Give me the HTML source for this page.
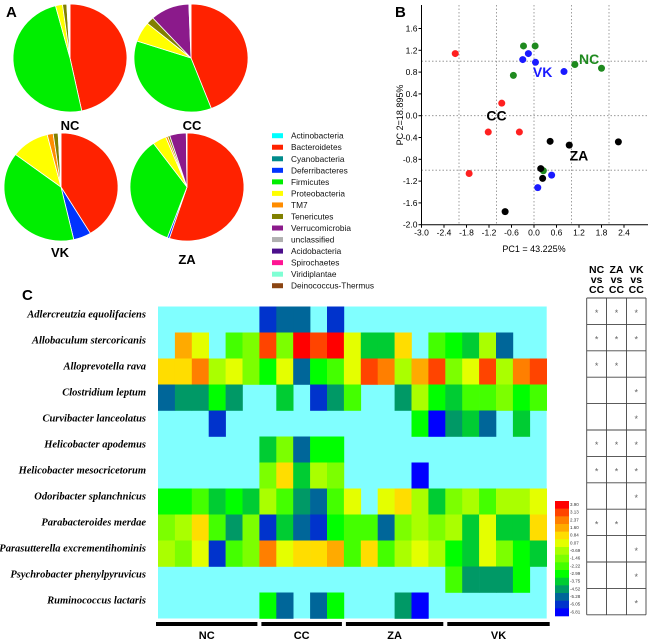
<!DOCTYPE html>
<html><head><meta charset="utf-8"><style>
html,body{margin:0;padding:0;background:#fff;}
svg{display:block;font-family:"Liberation Sans",sans-serif;}
</style></head><body>
<svg id="fig" width="650" height="640" viewBox="0 0 650 640">
<text x="6" y="17" font-size="15" font-weight="bold">A</text>
<text x="395" y="17" font-size="15" font-weight="bold">B</text>
<text x="22" y="300" font-size="15" font-weight="bold">C</text>
<g id="pies"></g>
<g id="legend"></g>
<g id="scatter"></g>
<g id="heat"></g>
<g id="table"></g>
</svg>
<script>
const NS="http://www.w3.org/2000/svg";
function mk(parent,tag,attrs,text){const e=document.createElementNS(NS,tag);for(const k in attrs)e.setAttribute(k,attrs[k]);if(text!==undefined)e.textContent=text;parent.appendChild(e);return e;}

// ---------- Panel A data ----------
const pieGroups=["NC","CC","VK","ZA"];
const piePhyla=["Bacteroidetes","Deferribacteres","Firmicutes","Proteobacteria","TM7","Tenericutes","Verrucomicrobia","Other"];
const pieColors=["#ff2200","#0033ff","#00ee00","#ffff00","#ff8c00","#808000","#8b1a8b","#ffffff"];
const pieNC=[46.7,0,49.2,2.0,0,1.2,0,0.9];
const pieCC=[44.2,0,35.9,6.0,0,2.2,11.1,0.6];
const pieVK=[41.4,5.0,38.9,10.8,1.7,1.4,0,0.8];
const pieZA=[55.0,0.6,34.4,3.9,0.6,0.6,4.7,0.2];
const pieValues=[pieNC,pieCC,pieVK,pieZA];
const pieLayout=[{cx:70,cy:58,lx:70,ly:130},{cx:191,cy:58,lx:192,ly:130},{cx:61,cy:187,lx:60,ly:257},{cx:187,cy:187,lx:187,ly:264}];
const pieRx=57,pieRy=54;
const pies=document.getElementById('pies');
pieGroups.forEach((g,gi)=>{
  const L=pieLayout[gi];const vals=pieValues[gi];
  const tot=vals.reduce((a,b)=>a+b,0);
  let a0=0;
  vals.forEach((v,i)=>{
    if(v<=0)return;
    const a1=a0+v/tot*2*Math.PI;
    const x0=L.cx+pieRx*Math.sin(a0),y0=L.cy-pieRy*Math.cos(a0);
    const x1=L.cx+pieRx*Math.sin(a1),y1=L.cy-pieRy*Math.cos(a1);
    const large=(a1-a0)>Math.PI?1:0;
    const p=mk(pies,'path',{d:`M${L.cx},${L.cy}L${x0},${y0}A${pieRx},${pieRy} 0 ${large} 1 ${x1},${y1}Z`,fill:pieColors[i],stroke:'#fff','stroke-width':0.8});
    
    
    a0=a1;
  });
  const t=mk(pies,'text',{x:L.lx,y:L.ly,'font-size':13,'font-weight':'bold','text-anchor':'middle'},g);
  
  
});

// ---------- Legend ----------
const legendNames=["Actinobacteria","Bacteroidetes","Cyanobacteria","Deferribacteres","Firmicutes","Proteobacteria","TM7","Tenericutes","Verrucomicrobia","unclassified","Acidobacteria","Spirochaetes","Viridiplantae","Deinococcus-Thermus"];
const legendColors=["#00ffff","#ff2200","#008b8b","#0033ff","#00ee00","#ffff00","#ff8c00","#808000","#8b1a8b","#b0b0b0","#4b0f8b","#ff1493","#7fffd4","#8b4513"];
const legend=document.getElementById('legend');
legendNames.forEach((n,i)=>{
  const y=135.7+i*11.54;
  const r=mk(legend,'rect',{x:272,y:y-2.5,width:11,height:5,fill:legendColors[i]});
  
  
  const t=mk(legend,'text',{x:291,y:y+3,'font-size':8.3,fill:'#111'},n);
  
  
});

// ---------- Panel B data ----------
const pcaGroups=["CC","NC","VK","ZA"];
const pcaColors=["#ff2020","#1f8a1f","#1a1aff","#000000"];
const pc1CC=[-2.1,-0.86,-1.22,-0.39,-1.73];
const pc2CC=[1.14,0.23,-0.30,-0.30,-1.06];
const pc1NC=[-0.28,0.03,-0.55,1.09,1.8,0.25];
const pc2NC=[1.28,1.28,0.74,0.94,0.87,-1.01];
const pc1VK=[-0.15,-0.30,0.04,0.80,0.47,0.10];
const pc2VK=[1.14,1.03,0.98,0.81,-1.09,-1.32];
const pc1ZA=[0.43,0.94,2.25,0.18,0.23,-0.77];
const pc2ZA=[-0.47,-0.54,-0.48,-0.97,-1.15,-1.76];
const xTicks=[-3.0,-2.4,-1.8,-1.2,-0.6,0.0,0.6,1.2,1.8,2.4];
const yTicks=[1.6,1.2,0.8,0.4,0.0,-0.4,-0.8,-1.2,-1.6,-2.0];
const xGrid=[-2,-1,0,1,2];
const yGrid=[1,0,-1];
const groupLabels=[{g:"CC",x:-1.27,y:0.0},{g:"NC",x:1.2,y:1.04},{g:"VK",x:-0.03,y:0.8},{g:"ZA",x:0.95,y:-0.73}];
const sx=v=>534+v*37.5;
const sy=v=>115.7-v*54.5;
const sc=document.getElementById('scatter');
xGrid.forEach(v=>{const l=mk(sc,'line',{x1:sx(v),x2:sx(v),y1:5,y2:sy(-2),stroke:'#888','stroke-dasharray':'1.5,2','stroke-width':0.8});});
yGrid.forEach(v=>{const l=mk(sc,'line',{x1:sx(-3),x2:648,y1:sy(v),y2:sy(v),stroke:'#888','stroke-dasharray':'1.5,2','stroke-width':0.8});});
let ax=mk(sc,'line',{x1:sx(-3),x2:sx(-3),y1:5,y2:sy(-2),stroke:'#000','stroke-width':1});
ax=mk(sc,'line',{x1:sx(-3),x2:648,y1:sy(-2),y2:sy(-2),stroke:'#000','stroke-width':1});
xTicks.forEach(v=>{
  mk(sc,'line',{x1:sx(v),x2:sx(v),y1:sy(-2),y2:sy(-2)+3,stroke:'#000'});
  const t=mk(sc,'text',{x:sx(v),y:sy(-2)+11,'font-size':8.5,'text-anchor':'middle'},v.toFixed(1));
  
});
yTicks.forEach(v=>{
  mk(sc,'line',{x1:sx(-3)-3,x2:sx(-3),y1:sy(v),y2:sy(v),stroke:'#000'});
  const t=mk(sc,'text',{x:sx(-3)-4,y:sy(v)+3,'font-size':8.5,'text-anchor':'end'},v.toFixed(1));
  
});
let tt=mk(sc,'text',{x:534,y:252,'font-size':9,'text-anchor':'middle'},'PC1 = 43.225%');
tt=mk(sc,'text',{x:0,y:0,'font-size':9,'text-anchor':'middle',transform:'translate(403,115) rotate(-90)'},'PC 2=18.895%');
const pcX=[pc1CC,pc1NC,pc1VK,pc1ZA],pcY=[pc2CC,pc2NC,pc2VK,pc2ZA];
pcaGroups.forEach((g,gi)=>{
  pcX[gi].forEach((v,i)=>{
    const c=mk(sc,'circle',{cx:sx(v),cy:sy(pcY[gi][i]),r:3.5,fill:pcaColors[gi]});
    
    
  });
});
groupLabels.forEach(L=>{
  const gi=pcaGroups.indexOf(L.g);
  const t=mk(sc,'text',{x:sx(L.x),y:sy(L.y)+5,'font-size':14,'font-weight':'bold',fill:gi===3||gi===0?'#000':pcaColors[gi]},L.g);
  
  
});

// ---------- Panel C data ----------
const species=["Adlercreutzia equolifaciens","Allobaculum stercoricanis","Alloprevotella rava","Clostridium leptum","Curvibacter lanceolatus","Helicobacter apodemus","Helicobacter mesocricetorum","Odoribacter splanchnicus","Parabacteroides merdae","Parasutterella excrementihominis","Psychrobacter phenylpyruvicus","Ruminococcus lactaris"];
const E=null;
const hRow0=[E,E,E,E,E,E,-6.05,-5.28,-5.28,E,-6.05,E,E,E,E,E,E,E,E,E,E,E,E];
const hRow1=[E,1.6,0.07,E,-2.22,-1.46,3.13,-1.46,3.9,3.13,3.9,0.07,-3.75,-3.75,0.84,E,-2.22,-2.99,-3.75,-0.69,-5.28,E,E];
const hRow2=[0.84,0.84,2.37,-0.69,0.07,-1.46,-2.99,0.07,-5.28,-2.99,-2.22,0.07,3.13,2.37,-0.69,1.6,3.13,-1.46,0.07,3.13,-0.69,2.37,3.13];
const hRow3=[-5.28,-4.52,-4.52,-2.99,-4.52,E,E,-3.75,E,-6.05,-4.52,-2.22,E,E,-4.52,-0.69,-2.99,-3.75,-2.22,-2.22,-1.46,-2.99,-2.22];
const hRow4=[E,E,E,-6.05,E,E,E,E,E,E,E,E,E,E,E,-2.99,-6.81,-4.52,-3.75,-5.28,E,-3.75,E];
const hRow5=[E,E,E,E,E,E,-3.75,-1.46,-5.28,-2.99,-2.99,E,E,E,E,E,E,E,E,E,E,E,E];
const hRow6=[E,E,E,E,E,E,-1.46,0.84,-3.75,-0.69,-1.46,E,E,E,E,-6.81,E,E,E,E,E,E,E];
const hRow7=[-2.99,-2.99,-2.22,-3.75,-2.99,-3.75,-0.69,-2.22,-4.52,-5.28,-2.22,0.07,E,0.07,0.84,-0.69,-3.75,-1.46,-0.69,-2.22,-0.69,-0.69,0.07];
const hRow8=[-1.46,-0.69,0.84,-2.22,-4.52,-1.46,-6.05,-3.75,-5.28,-6.05,-2.99,-2.22,-2.22,-5.28,-1.46,-0.69,-1.46,-0.69,-3.75,0.07,-3.75,-3.75,0.84];
const hRow9=[-0.69,-1.46,0.07,-6.05,-2.22,-1.46,2.37,0.07,0.84,0.84,1.6,-2.22,0.84,-2.22,-0.69,0.07,-0.69,-2.99,-3.75,0.07,-1.46,-2.99,-3.75];
const hRow10=[E,E,E,E,E,E,E,E,E,E,E,E,E,E,E,E,E,-2.22,-4.52,-4.52,-4.52,-2.99,E];
const hRow11=[E,E,E,E,E,E,-2.99,-5.28,E,-5.28,-2.99,E,E,E,-4.52,-6.81,E,E,E,E,E,E,E];
const heatRows=[hRow0,hRow1,hRow2,hRow3,hRow4,hRow5,hRow6,hRow7,hRow8,hRow9,hRow10,hRow11];
const scaleLevels=[3.90,3.13,2.37,1.60,0.84,0.07,-0.69,-1.46,-2.22,-2.99,-3.75,-4.52,-5.28,-6.05,-6.81];
const scaleColors=["#ff0000","#ff4400","#ff7f00","#ffaa00","#ffdd00","#e4ff00","#aaff00","#7cff00","#44ff00","#00ff00","#00cc33","#009966","#006699","#0033cc","#0000ff"];
const sampleGroups=["NC","CC","ZA","VK"];
const groupSizes=[6,5,6,6];
const heatX0=158,cellW=16.9,heatY0=306.5,cellH=26;
function colorFor(v){let best=0,bd=1e9;scaleLevels.forEach((l,i)=>{const d=Math.abs(l-v);if(d<bd){bd=d;best=i;}});return scaleColors[best];}
const heat=document.getElementById('heat');
const nCols=hRow0.length;
let bg=mk(heat,'rect',{x:heatX0,y:heatY0,width:nCols*cellW,height:species.length*cellH,fill:'#80ffff'});

heatRows.forEach((row,ri)=>{
  row.forEach((v,ci)=>{
    if(v===null)return;
    const r=mk(heat,'rect',{x:heatX0+ci*cellW,y:heatY0+ri*cellH,width:cellW+0.3,height:cellH+0.3,fill:colorFor(v)});
    
    
  });
  const t=mk(heat,'text',{x:146,y:heatY0+ri*cellH+11,'font-size':10.5,'font-weight':'bold','font-style':'italic','text-anchor':'end','font-family':'"Liberation Serif",serif'},species[ri]);
  
  
});
let c0=0;
sampleGroups.forEach((g,gi)=>{
  const x1=heatX0+c0*cellW+(gi?2:-2),x2=heatX0+(c0+groupSizes[gi])*cellW-2+(gi===3?5:0);
  const b=mk(heat,'rect',{x:x1,y:622,width:x2-x1,height:4,fill:'#000'});
  
  const t=mk(heat,'text',{x:(x1+x2)/2,y:639,'font-size':11,'font-weight':'bold','text-anchor':'middle'},g);
  
  c0+=groupSizes[gi];
});
// color scale
const cbY0=501,cbH=115/15;
scaleLevels.forEach((l,i)=>{
  const r=mk(heat,'rect',{x:555,y:cbY0+i*cbH,width:14,height:cbH+0.3,fill:scaleColors[i]});
  
  const t=mk(heat,'text',{x:570,y:cbY0+i*cbH+5,'font-size':4.5,fill:'#333'},l.toFixed(2));
  
});

// ---------- Table ----------
const comparisons=["NC","ZA","VK"];
const sigNC=[1,1,1,0,0,1,1,0,1,0,0,0];
const sigZA=[1,1,1,0,0,1,1,0,1,0,0,0];
const sigVK=[1,1,0,1,1,1,1,1,0,1,1,1];
const sigCols=[sigNC,sigZA,sigVK];
const tb=document.getElementById('table');
const colX=[586.7,606.5,626.5,646],rowY0=298,rowH=26.4;
comparisons.forEach((c,ci)=>{
  const cx=(colX[ci]+colX[ci+1])/2;
  [c,'vs','CC'].forEach((s,k)=>{
    const t=mk(tb,'text',{x:cx,y:273+k*10,'font-size':10.5,'font-weight':'bold','text-anchor':'middle'},s);
    
  });
  sigCols[ci].forEach((s,ri)=>{
    if(!s)return;
    const t=mk(tb,'text',{x:cx,y:rowY0+ri*rowH+rowH/2+5,'font-size':9,fill:'#666','text-anchor':'middle'},'*');
    
  });
});
colX.forEach(x=>{const l=mk(tb,'line',{x1:x,x2:x,y1:rowY0,y2:rowY0+12*rowH,stroke:'#444','stroke-width':0.9});});
for(let i=0;i<=12;i++){const l=mk(tb,'line',{x1:colX[0],x2:colX[3],y1:rowY0+i*rowH,y2:rowY0+i*rowH,stroke:'#444','stroke-width':0.9});}
</script>
</body></html>
